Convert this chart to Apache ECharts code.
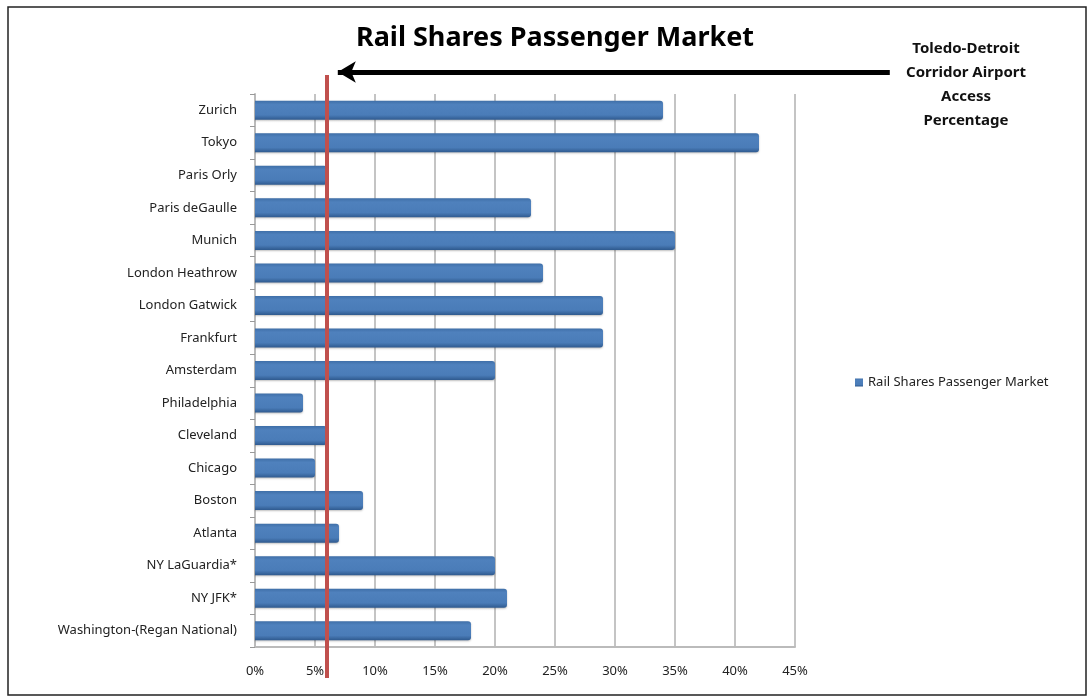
<!DOCTYPE html>
<html><head><meta charset="utf-8">
<script src="https://cdn.jsdelivr.net/npm/echarts@6/dist/echarts.min.js"></script>
<style>html,body{margin:0;padding:0;background:#fff}#c{width:1090px;height:698px}</style>
</head><body><div id="c"></div>
<script>
const categories = ["Zurich","Tokyo","Paris Orly","Paris deGaulle","Munich","London Heathrow","London Gatwick","Frankfurt","Amsterdam","Philadelphia","Cleveland","Chicago","Boston","Atlanta","NY LaGuardia*","NY JFK*","Washington-(Regan National)"];
const railShare = [34,42,6,23,35,24,29,29,20,4,6,5,9,7,20,21,18];
const xTicks = [0,5,10,15,20,25,30,35,40,45];
const corridorPct = 6;
const seriesName = "Rail Shares Passenger Market";
const annotation = "Toledo-Detroit\nCorridor Airport\nAccess\nPercentage";

const chart = echarts.init(document.getElementById('c'));
const font = "'Noto Sans', 'Open Sans', sans-serif";
chart.setOption({
  animation:false,
  backgroundColor:'#fff',
  title:{text:seriesName,left:550,textAlign:'center',top:20,textStyle:{fontFamily:font,fontSize:27,fontWeight:'bold',color:'#000'}},
  legend:{data:[seriesName],left:850,top:371,icon:'rect',itemWidth:8,itemHeight:8,itemGap:4,textStyle:{fontFamily:font,fontSize:13,color:'#222'}},
  graphic:[
    {type:'rect',shape:{x:8,y:7,width:1078,height:688},style:{fill:'none',stroke:'#222',lineWidth:1.5},silent:true},
    {type:'text',x:966,y:37,style:{text:annotation,fontFamily:font,fontSize:15,fontWeight:'bold',fill:'#111',align:'center',lineHeight:24},z:10}
  ],
  grid:[
    {left:255,width:540,top:94,bottom:51,containLabel:false},
    {left:255,width:720,top:72,bottom:20}
  ],
  xAxis:[
    {type:'value',gridIndex:0,min:0,max:45,interval:5,
     axisLabel:{formatter:v=>v+'%',fontFamily:font,fontSize:13,color:'#222',margin:18},
     axisLine:{show:true,lineStyle:{color:'#bbb',width:2}},axisTick:{show:false},
     splitLine:{show:true,lineStyle:{color:'#c4c4c4',width:2}}},
    {type:'value',gridIndex:1,min:0,max:60,show:false}
  ],
  yAxis:[
    {type:'category',gridIndex:0,data:categories,inverse:true,
     axisLabel:{fontFamily:font,fontSize:13,color:'#222',margin:18},
     axisLine:{show:true,lineStyle:{color:'#bbb',width:2}},
     axisTick:{show:true,length:5,lineStyle:{color:'#999'}},splitLine:{show:false}},
    {type:'value',gridIndex:1,min:0,max:100,show:false}
  ],
  series:[
    {name:seriesName,type:'bar',xAxisIndex:0,yAxisIndex:0,data:railShare,barWidth:19,
     itemStyle:{color:new echarts.graphic.LinearGradient(0,0,0,1,[
       {offset:0,color:'#3f6fa8'},{offset:0.2,color:'#4f81bd'},{offset:0.75,color:'#4a7cb8'},{offset:1,color:'#2f5a8f'}]),
       borderRadius:[0,3,3,0],shadowColor:'rgba(0,0,0,0.25)',shadowBlur:2,shadowOffsetY:1}},
    {type:'line',xAxisIndex:1,yAxisIndex:1,data:[[corridorPct,0],[corridorPct,99.5]],
     symbol:'none',lineStyle:{color:'#c0504d',width:4},silent:true,z:5,
     markLine:{silent:true,symbol:['none','arrow'],symbolSize:[16,18],label:{show:false},
       lineStyle:{color:'#000',width:5,type:'solid'},
       data:[[{coord:[52.9,100]},{coord:[corridorPct+0.9,100]}]]}}
  ]
});
</script></body></html>
